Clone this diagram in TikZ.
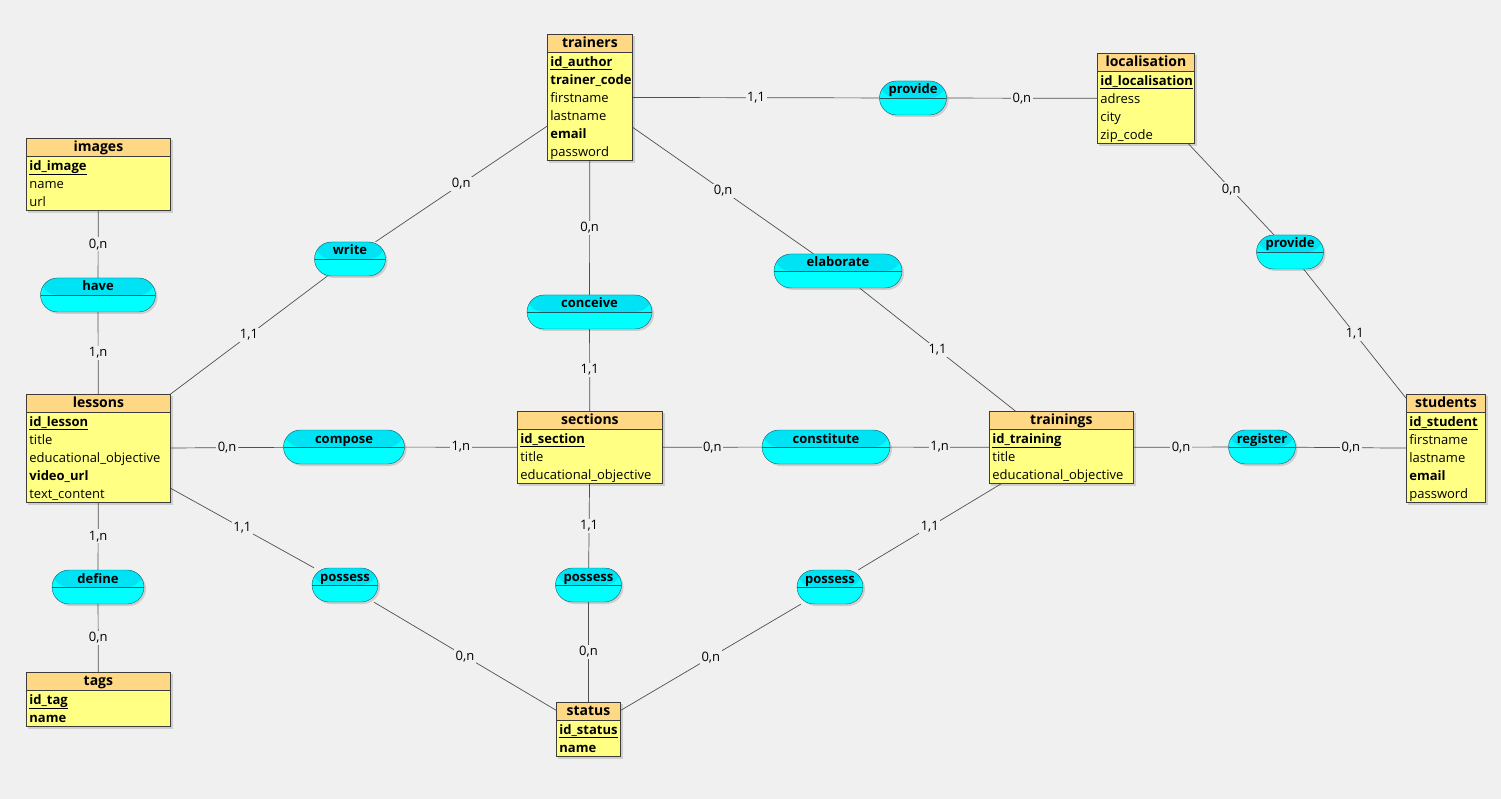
\documentclass[tikz,border=0pt]{standalone}
\usepackage{fontspec}
\setmainfont{Open Sans}
\usetikzlibrary{matrix,shadows}

\definecolor{bgc}{HTML}{F0F0F0}
\definecolor{hdr}{HTML}{FFD885}
\definecolor{body}{HTML}{FFFF84}
\definecolor{edge}{HTML}{3C3C3C}
\definecolor{relfill}{HTML}{00FFFF}
\definecolor{relhdr}{HTML}{00E3F5}
\definecolor{reledge}{HTML}{1E5A64}
\definecolor{linkc}{HTML}{505050}

\newcommand{\pk}[1]{\underline{\textbf{#1}}}

\tikzset{
  entity/.style={matrix of nodes, draw=edge, fill=body, inner sep=0pt, row sep=0pt, anchor=north west,
    drop shadow={shadow xshift=2pt, shadow yshift=-2pt, opacity=0.3},
    nodes={inner xsep=3pt, inner ysep=0pt, text width=#1, minimum height=18pt, text height=12.5pt, text depth=3.5pt,
      align=left, font=\fontsize{13}{15}\selectfont},
    row 1/.style={nodes={fill=hdr, draw=edge, align=center, font=\fontsize{14}{15}\selectfont\bfseries}}},
  rel/.style={rectangle, rounded corners=17pt, draw=reledge, fill=relfill, minimum width=#1, minimum height=34pt,
    inner ysep=0pt, inner xsep=0pt, text height=13pt, text depth=21pt, font=\fontsize{13}{15}\selectfont\bfseries,
    drop shadow={shadow xshift=2pt, shadow yshift=-2pt, opacity=0.3},
    path picture={\fill[relhdr] (path picture bounding box.north west) rectangle (path picture bounding box.east);
      \draw[reledge, sharp corners] (path picture bounding box.west) -- (path picture bounding box.east);}},
  card/.style={fill=bgc, inner sep=1.5pt, font=\fontsize{13}{14}\selectfont},
  link/.style={draw=linkc, line width=0.7pt}
}

\begin{document}
\begin{tikzpicture}[x=1pt, y=-1pt]
\fill[bgc] (0,0) rectangle (1501,799);
\useasboundingbox (0,0) rectangle (1501,799);

\matrix (trainers) [entity=79pt] at (547,34) {
  trainers\\
  \pk{id\_author}\\
  \textbf{trainer\_code}\\
  firstname\\
  lastname\\
  \textbf{email}\\
  password\\
};
\matrix (localisation) [entity=91pt] at (1097,53) {
  localisation\\
  \pk{id\_localisation}\\
  adress\\
  city\\
  zip\_code\\
};
\matrix (images) [entity=138pt] at (26,138) {
  images\\
  \pk{id\_image}\\
  name\\
  url\\
};
\matrix (lessons) [entity=138pt] at (26,394) {
  lessons\\
  \pk{id\_lesson}\\
  title\\
  educational\_objective\\
  \textbf{video\_url}\\
  text\_content\\
};
\matrix (sections) [entity=139pt] at (517,411) {
  sections\\
  \pk{id\_section}\\
  title\\
  educational\_objective\\
};
\matrix (trainings) [entity=138pt] at (989,411) {
  trainings\\
  \pk{id\_training}\\
  title\\
  educational\_objective\\
};
\matrix (students) [entity=73pt] at (1406,394) {
  students\\
  \pk{id\_student}\\
  firstname\\
  lastname\\
  \textbf{email}\\
  password\\
};
\matrix (tags) [entity=138pt] at (26,672) {
  tags\\
  \pk{id\_tag}\\
  \textbf{name}\\
};
\matrix (status) [entity=58pt] at (556,702) {
  status\\
  \pk{id\_status}\\
  \textbf{name}\\
};

\node[rel=67pt] (provideA) at (913,98) {provide};
\node[rel=71pt] (write) at (350,259) {write};
\node[rel=115pt] (have) at (98,295) {have};
\node[rel=125pt] (conceive) at (589.5,312) {conceive};
\node[rel=128pt] (elaborate) at (838,271) {elaborate};
\node[rel=67pt] (provideB) at (1290,252) {provide};
\node[rel=121pt] (compose) at (344,447) {compose};
\node[rel=128pt] (constitute) at (826,447) {constitute};
\node[rel=67pt] (register) at (1262,447) {register};
\node[rel=92pt] (define) at (98,587) {define};
\node[rel=66pt] (possessA) at (345,585) {possess};
\node[rel=66pt] (possessB) at (588.5,585) {possess};
\node[rel=66pt] (possessC) at (830,587) {possess};

\draw[link] (trainers) -- node[card] {1,1} (provideA);
\draw[link] (provideA) -- node[card] {0,n} (localisation);
\draw[link] (localisation) -- node[card] {0,n} (provideB);
\draw[link] (provideB) -- node[card] {1,1} (students);
\draw[link] (images) -- node[card] {0,n} (have);
\draw[link] (have) -- node[card] {1,n} (lessons);
\draw[link] (trainers) -- node[card] {0,n} (write);
\draw[link] (write) -- node[card] {1,1} (lessons);
\draw[link] (trainers) -- node[card] {0,n} (conceive);
\draw[link] (conceive) -- node[card] {1,1} (sections);
\draw[link] (trainers) -- node[card] {0,n} (elaborate);
\draw[link] (elaborate) -- node[card] {1,1} (trainings);
\draw[link] (lessons) -- node[card] {0,n} (compose);
\draw[link] (compose) -- node[card] {1,n} (sections);
\draw[link] (sections) -- node[card] {0,n} (constitute);
\draw[link] (constitute) -- node[card] {1,n} (trainings);
\draw[link] (trainings) -- node[card] {0,n} (register);
\draw[link] (register) -- node[card] {0,n} (students);
\draw[link] (lessons) -- node[card] {1,n} (define);
\draw[link] (define) -- node[card] {0,n} (tags);
\draw[link] (lessons) -- node[card] {1,1} (possessA);
\draw[link] (possessA) -- node[card] {0,n} (status);
\draw[link] (sections) -- node[card] {1,1} (possessB);
\draw[link] (possessB) -- node[card] {0,n} (status);
\draw[link] (trainings) -- node[card] {1,1} (possessC);
\draw[link] (possessC) -- node[card] {0,n} (status);
\end{tikzpicture}
\end{document}
